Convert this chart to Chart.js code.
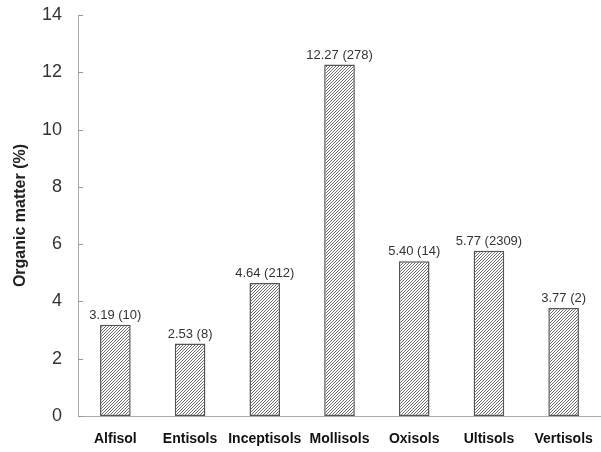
<!DOCTYPE html>
<html><head><meta charset="utf-8">
<script src="https://cdn.jsdelivr.net/npm/chart.js@4/dist/chart.umd.min.js"></script>
<style>html,body{margin:0;padding:0;background:#fff}#wrap{width:601px;height:452px}</style>
</head><body><div id="wrap"><canvas id="c" width="601" height="452"></canvas></div>
<script>
const categories = ['Alfisol','Entisols','Inceptisols','Mollisols','Oxisols','Ultisols','Vertisols'];
const organicMatter = [3.19, 2.53, 4.64, 12.27, 5.40, 5.77, 3.77];
const sampleCounts = [10, 8, 212, 278, 14, 2309, 2];
const yTicks = [0, 2, 4, 6, 8, 10, 12, 14];

function hatch(){
  const s = 3;
  const p = document.createElement('canvas'); p.width = s; p.height = s;
  const g = p.getContext('2d');
  g.fillStyle = '#fff'; g.fillRect(0,0,s,s);
  g.strokeStyle = '#5a5a5a'; g.lineWidth = 0.9;
  g.beginPath();
  g.moveTo(0, s); g.lineTo(s, 0);
  g.moveTo(-1, 1); g.lineTo(1, -1);
  g.moveTo(s-1, s+1); g.lineTo(s+1, s-1);
  g.stroke();
  return document.getElementById('c').getContext('2d').createPattern(p, 'repeat');
}

const extras = {
  id: 'extras',
  afterDatasetsDraw(chart){
    const ctx = chart.ctx, y = chart.scales.y, x = chart.scales.x;
    ctx.save();
    ctx.strokeStyle = '#999'; ctx.lineWidth = 1;
    yTicks.forEach(v => {
      const py = Math.round(y.getPixelForValue(v)) + 0.5;
      ctx.beginPath(); ctx.moveTo(x.left, py); ctx.lineTo(x.left + 5, py); ctx.stroke();
    });
    ctx.fillStyle = '#333'; ctx.font = '13px "Liberation Sans", Arial, sans-serif';
    ctx.textAlign = 'center'; ctx.textBaseline = 'bottom';
    const meta = chart.getDatasetMeta(0);
    meta.data.forEach((bar, i) => {
      ctx.fillText(organicMatter[i].toFixed(2) + ' (' + sampleCounts[i] + ')', bar.x, bar.y - 3);
    });
    ctx.restore();
  }
};

new Chart(document.getElementById('c'), {
  type: 'bar',
  data: {
    labels: categories,
    datasets: [{
      data: organicMatter,
      backgroundColor: hatch(),
      borderColor: '#555',
      borderWidth: 1.5,
      borderSkipped: false,
      barPercentage: 0.41,
      categoryPercentage: 1.0
    }]
  },
  options: {
    responsive: false,
    animation: false,
    layout: { padding: { top: 15, right: -4, left: 0, bottom: 0 } },
    plugins: { legend: { display: false }, tooltip: { enabled: false } },
    scales: {
      x: {
        grid: { display: false, drawTicks: false },
        border: { display: true, color: '#aaa', width: 1 },
        ticks: { color: '#111', maxRotation: 0, minRotation: 0, autoSkip: false, font: { family: '"Liberation Sans", Arial, sans-serif', size: 14, weight: 'bold' }, padding: 15 },
        afterFit(s){ s.height = 36; s.paddingLeft = 0; s.paddingRight = 0; }
      },
      y: {
        min: 0, max: 14,
        afterBuildTicks(s){ s.ticks = yTicks.map(v => ({ value: v })); },
        grid: { display: false, drawTicks: false },
        border: { display: true, color: '#aaa', width: 1 },
        ticks: { color: '#333', font: { family: '"Liberation Sans", Arial, sans-serif', size: 18 }, padding: 16 },
        title: { display: true, text: 'Organic matter (%)', color: '#222', font: { family: '"Liberation Sans", Arial, sans-serif', size: 16, weight: 'bold' }, padding: { top: 11, bottom: 0 } },
        afterFit(s){ s.width = 78; s.paddingTop = 0; s.paddingBottom = 0; }
      }
    }
  },
  plugins: [extras]
});
</script></body></html>
